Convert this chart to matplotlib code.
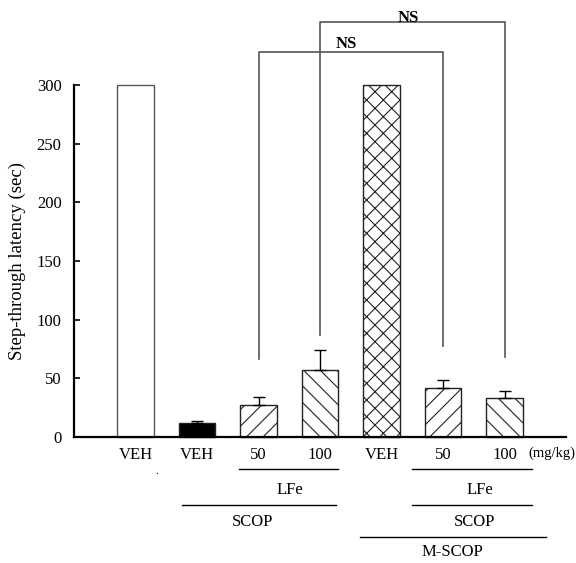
import matplotlib
matplotlib.use("Agg")
import matplotlib.pyplot as plt
import matplotlib.transforms as mtransforms

# ----------------------------
# Data
# ----------------------------
dose_labels = ["VEH", "VEH", "50", "100", "VEH", "50", "100"]
latency = [300, 12, 27, 57, 300, 42, 33]
sem = [0, 1.5, 7, 17, 0, 6.5, 6]

plt.rcParams["font.family"] = ["Liberation Serif", "DejaVu Serif"]
plt.rcParams["hatch.linewidth"] = 0.8

fills = ["white", "black", "white", "white", "white", "white", "white"]
edges = ["#555555", "#222222", "#222222", "#222222", "#222222", "#222222", "#222222"]
hatches = ["", "", "//", "\\\\", "xx", "//", "\\\\"]

x = list(range(1, len(latency) + 1))

fig = plt.figure(figsize=(5.76, 5.63), dpi=100)
W, H = 576, 563
ax = fig.add_axes([74 / W, 1 - 437 / H, (566 - 74) / W, (437 - 85) / H])

bars = ax.bar(x, latency, width=0.6, color=fills, edgecolor=edges,
              linewidth=1.0, clip_on=False, zorder=2)
for b, h in zip(bars, hatches):
    b.set_hatch(h)

# only bars that have an error term get an (upper) error bar
ex = [xi for xi, s in zip(x, sem) if s > 0]
ey = [v for v, s in zip(latency, sem) if s > 0]
es = [s for s in sem if s > 0]
ax.errorbar(ex, ey, yerr=[[0] * len(es), es], fmt="none",
            ecolor="black", elinewidth=1.0, capsize=4, capthick=1.0, zorder=3)

ax.set_xlim(0, 8)
ax.set_ylim(0, 300)
ax.set_yticks(range(0, 301, 50))
ax.set_xticks(x)
ax.set_xticklabels(dose_labels)
ax.tick_params(axis="y", direction="in", length=4, width=1.2, labelsize=12, pad=9)
ax.tick_params(axis="x", length=0, labelsize=12, pad=7)
ax.set_ylabel("Step-through latency (sec)", fontsize=13.5)
ax.yaxis.set_label_coords(-0.097, 0.5)

for s in ["top", "right"]:
    ax.spines[s].set_visible(False)
ax.spines["left"].set_linewidth(1.6)
ax.spines["bottom"].set_linewidth(1.6)

# significance brackets (x1, x2, top, left leg end, right leg end, text baseline)
brackets = [(3, 6, 328, 66.5, 77.6, 331.5), (4, 7, 353.5, 87, 68.4, 354)]
for x1, x2, top, y1, y2, ty in brackets:
    ax.plot([x1, x1, x2, x2], [y1, top, top, y2], color="#555555",
            linewidth=1.2, clip_on=False, zorder=1)
    ax.text((x1 + x2) / 2 - 0.07, ty, "NS", ha="center", va="baseline",
            fontsize=12, fontweight="bold")

# group labels under the axis
trans = mtransforms.blended_transform_factory(ax.transData, fig.transFigure)


def fy(py):
    return 1 - py / H


ax.text(8.15, fy(453), "(mg/kg)", transform=trans, ha="right", va="center", fontsize=10.5)
ax.text(1.35, fy(471), ".", transform=trans, ha="center", va="center", fontsize=8)

lines = [(2.68, 4.29, 469), (1.76, 4.26, 505),
         (5.5, 7.45, 469), (5.5, 7.45, 505), (4.65, 7.67, 537)]
for xa, xb, py in lines:
    ax.plot([xa, xb], [fy(py), fy(py)], transform=trans, color="black",
            linewidth=1.0, clip_on=False)

group_text = [(3.51, 490, "LFe"), (2.91, 522, "SCOP"),
              (6.6, 490, "LFe"), (6.52, 522, "SCOP"), (6.16, 552, "M-SCOP")]
for gx, py, t in group_text:
    ax.text(gx, fy(py), t, transform=trans, ha="center", va="center", fontsize=12)

plt.savefig("out.png", dpi=100)
plt.close()
